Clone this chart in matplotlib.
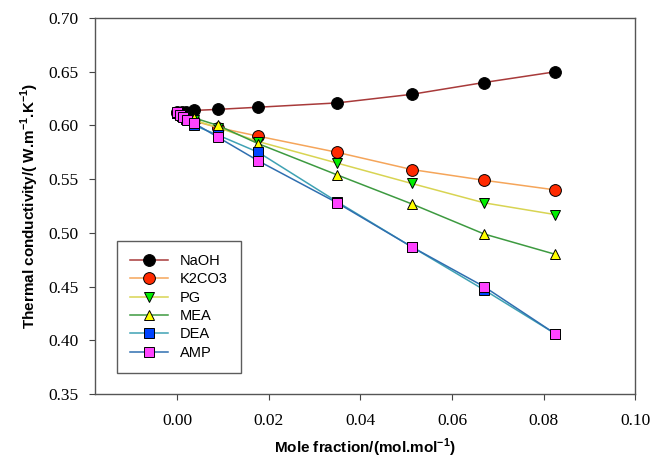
"""
Thermal conductivity of aqueous solutions against mole fraction.
"""
import matplotlib
matplotlib.use("Agg")
import matplotlib.pyplot as plt

plt.rcParams["font.family"] = "serif"
plt.rcParams["font.serif"] = ["Liberation Serif", "DejaVu Serif"]
plt.rcParams["mathtext.fontset"] = "custom"
plt.rcParams["mathtext.rm"] = "Liberation Sans"
plt.rcParams["mathtext.bf"] = "Liberation Sans:bold"

# data
naoh_x = [0.0, 0.0009, 0.0018, 0.0037, 0.0089, 0.0177, 0.0349, 0.0512, 0.0670, 0.0826]
naoh_y = [0.613, 0.613, 0.613, 0.614, 0.615, 0.617, 0.621, 0.629, 0.640, 0.650]

k2co3_x = [0.0, 0.0009, 0.0018, 0.0037, 0.0089, 0.0177, 0.0349, 0.0512, 0.0670, 0.0826]
k2co3_y = [0.612, 0.609, 0.607, 0.604, 0.598, 0.590, 0.575, 0.559, 0.549, 0.540]

pg_x = [0.0, 0.0009, 0.0018, 0.0037, 0.0089, 0.0177, 0.0349, 0.0512, 0.0670, 0.0826]
pg_y = [0.612, 0.609, 0.607, 0.605, 0.598, 0.585, 0.565, 0.546, 0.528, 0.517]

mea_x = [0.0, 0.0009, 0.0018, 0.0037, 0.0089, 0.0177, 0.0349, 0.0512, 0.0670, 0.0826]
mea_y = [0.612, 0.610, 0.608, 0.607, 0.600, 0.583, 0.554, 0.527, 0.499, 0.480]

dea_x = [0.0, 0.0009, 0.0018, 0.0037, 0.0089, 0.0177, 0.0349, 0.0512, 0.0670, 0.0826]
dea_y = [0.612, 0.609, 0.606, 0.600, 0.591, 0.575, 0.529, 0.487, 0.447, 0.406]

amp_x = [0.0, 0.0005, 0.0013, 0.0020, 0.0037, 0.0089, 0.0177, 0.0349, 0.0512, 0.0670, 0.0826]
amp_y = [0.613, 0.610, 0.608, 0.605, 0.602, 0.589, 0.567, 0.528, 0.487, 0.450, 0.406]

x_ticks = [0.00, 0.02, 0.04, 0.06, 0.08, 0.10]
y_ticks = [0.35, 0.40, 0.45, 0.50, 0.55, 0.60, 0.65, 0.70]

series = [
    ("NaOH", naoh_x, naoh_y, "#a83a3a", "o", "black"),
    ("K2CO3", k2co3_x, k2co3_y, "#f5a55a", "o", "#ff2a00"),
    ("PG", pg_x, pg_y, "#d8d452", "v", "#00ee00"),
    ("MEA", mea_x, mea_y, "#3d9a40", "^", "#ffff00"),
    ("DEA", dea_x, dea_y, "#3fa2b4", "s", "#0044ff"),
    ("AMP", amp_x, amp_y, "#2f6fb0", "s", "#ff44ff"),
]

fig = plt.figure(figsize=(6.53, 4.63), dpi=100)
ax = fig.add_axes([0.1455, 0.149, 0.827, 0.812])

for label, xs, ys, line_color, marker, face in series:
    ax.plot(
        xs, ys,
        color=line_color,
        linewidth=1.1,
        marker=marker,
        markersize=8.5 if marker == "o" else 7.5,
        markerfacecolor=face,
        markeredgecolor="black",
        markeredgewidth=0.7,
        label=label,
    )

ax.set_xlim(-0.018, 0.10)
ax.set_ylim(0.35, 0.70)
ax.set_xticks(x_ticks)
ax.set_yticks(y_ticks)
ax.set_xticklabels([f"{v:.2f}" for v in x_ticks])
ax.set_yticklabels([f"{v:.2f}" for v in y_ticks])
for lbl in ax.get_xticklabels() + ax.get_yticklabels():
    lbl.set_fontfamily(["Liberation Serif", "DejaVu Serif"])
ax.tick_params(direction="out", length=4, width=0.8, color="#444444", labelsize=12.5)
ax.tick_params(axis="x", pad=10)
ax.tick_params(axis="y", pad=8)
for spine in ax.spines.values():
    spine.set_color("#555555")
    spine.set_linewidth(1.0)

ax.set_xlabel(
    r"Mole fraction/(mol.mol$^{\bf{-1}}$)",
    family="Liberation Sans", fontweight="bold", fontsize=11, labelpad=5,
)
ax.set_ylabel(
    r"Thermal conductivity/( W.m$^{\bf{-1}}$.K$^{\bf{-1}}$)",
    family="Liberation Sans", fontweight="bold", fontsize=11, labelpad=5,
)

leg = ax.legend(
    loc="lower left",
    bbox_to_anchor=(0.041, 0.056),
    borderaxespad=0,
    fancybox=False,
    edgecolor="#333333",
    prop={"family": "Liberation Sans", "size": 10.5},
    handlelength=2.6,
    borderpad=0.9,
    labelspacing=0.3,
)
leg.get_frame().set_linewidth(1.0)

fig.savefig("out.png", dpi=100)
